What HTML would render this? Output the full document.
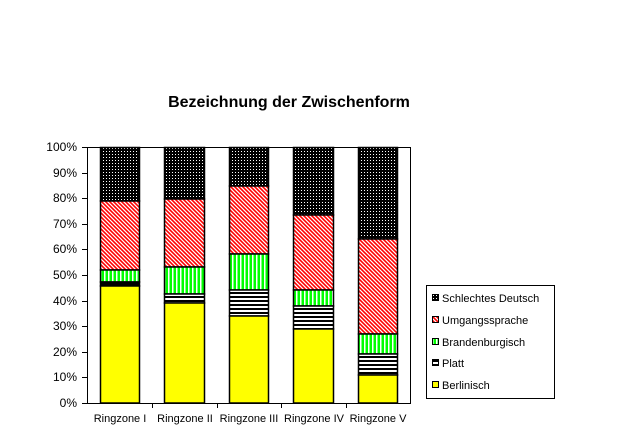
<!DOCTYPE html>
<html><head><meta charset="utf-8"><style>
body{margin:0;background:#fff;}
svg text{font-family:"Liberation Sans",Arial,sans-serif;}
</style></head><body>
<svg width="640" height="442" viewBox="0 0 640 442" xmlns="http://www.w3.org/2000/svg">
<defs>
<pattern id="dots" width="3" height="3" patternUnits="userSpaceOnUse"><rect width="3" height="3" fill="#000"/><rect x="1" y="1" width="1" height="1" fill="#fff"/></pattern>
<pattern id="diag" width="4" height="4" patternUnits="userSpaceOnUse"><rect width="4" height="4" fill="#fff"/><path d="M-1,3 L1,5 M0,0 L4,4 M3,-1 L5,1" stroke="#f00" stroke-width="1.6"/></pattern>
<pattern id="vert" width="4" height="4" patternUnits="userSpaceOnUse"><rect width="4" height="4" fill="#0f0"/><rect x="0" width="1.5" height="4" fill="#fff"/></pattern>
<pattern id="horiz" width="4" height="4" patternUnits="userSpaceOnUse"><rect width="4" height="4" fill="#fff"/><rect y="0" width="4" height="2" fill="#000"/></pattern>
</defs>
<text x="289" y="107" font-size="16" font-weight="bold" text-anchor="middle">Bezeichnung der Zwischenform</text>
<g font-size="12" text-anchor="end">
<text x="77" y="151">100%</text><text x="77" y="177">90%</text><text x="77" y="202">80%</text><text x="77" y="228">70%</text><text x="77" y="253">60%</text><text x="77" y="279">50%</text><text x="77" y="305">40%</text><text x="77" y="330">30%</text><text x="77" y="356">20%</text><text x="77" y="381">10%</text><text x="77" y="407">0%</text>
</g>
<g stroke="#000" stroke-width="1">
<path d="M87.5,147 V403.5 H410.5 V147.5 H87.5" fill="none"/>
<path d="M82,147.5H88M82,173.5H88M82,198.5H88M82,224.5H88M82,249.5H88M82,275.5H88M82,301.5H88M82,326.5H88M82,352.5H88M82,377.5H88M82,403.5H88"/>
<path d="M152.5,403V408M217.5,403V408M281.5,403V408M346.5,403V408"/>
</g>
<g stroke="#000" stroke-width="1.5">
<rect x="100.5" y="147.5" width="39" height="53.5" fill="url(#dots)"/>
<rect x="100.5" y="201" width="39" height="69" fill="url(#diag)"/>
<rect x="100.5" y="270" width="39" height="12" fill="url(#vert)"/>
<rect x="100.5" y="282" width="39" height="4" fill="#000"/>
<rect x="100.5" y="286" width="39" height="117" fill="#ff0"/>
<rect x="164.5" y="147.5" width="40" height="51.5" fill="url(#dots)"/>
<rect x="164.5" y="199" width="40" height="68" fill="url(#diag)"/>
<rect x="164.5" y="267" width="40" height="27" fill="url(#vert)"/>
<rect x="164.5" y="294" width="40" height="9" fill="url(#horiz)"/>
<rect x="164.5" y="303" width="40" height="100" fill="#ff0"/>
<rect x="229.5" y="147.5" width="39" height="38.5" fill="url(#dots)"/>
<rect x="229.5" y="186" width="39" height="68" fill="url(#diag)"/>
<rect x="229.5" y="254" width="39" height="36" fill="url(#vert)"/>
<rect x="229.5" y="290" width="39" height="26" fill="url(#horiz)"/>
<rect x="229.5" y="316" width="39" height="87" fill="#ff0"/>
<rect x="293.5" y="147.5" width="40" height="67.5" fill="url(#dots)"/>
<rect x="293.5" y="215" width="40" height="75" fill="url(#diag)"/>
<rect x="293.5" y="290" width="40" height="16" fill="url(#vert)"/>
<rect x="293.5" y="306" width="40" height="23" fill="url(#horiz)"/>
<rect x="293.5" y="329" width="40" height="74" fill="#ff0"/>
<rect x="358.5" y="147.5" width="39" height="91.5" fill="url(#dots)"/>
<rect x="358.5" y="239" width="39" height="95" fill="url(#diag)"/>
<rect x="358.5" y="334" width="39" height="20" fill="url(#vert)"/>
<rect x="358.5" y="354" width="39" height="21" fill="url(#horiz)"/>
<rect x="358.5" y="375" width="39" height="28" fill="#ff0"/>
</g>
<g font-size="11" text-anchor="middle">
<text x="120" y="422">Ringzone I</text><text x="185" y="422">Ringzone II</text><text x="249" y="422">Ringzone III</text><text x="314" y="422">Ringzone IV</text><text x="378" y="422">Ringzone V</text>
</g>
<rect x="426.5" y="285.5" width="128" height="113" fill="#fff" stroke="#000"/>
<g stroke="#000" stroke-width="1">
<rect x="432.5" y="294.5" width="6" height="6" fill="url(#dots)"/>
<rect x="432.5" y="316.5" width="6" height="6" fill="url(#diag)"/>
<rect x="432.5" y="338.5" width="6" height="6" fill="url(#vert)"/>
<rect x="432.5" y="359.5" width="6" height="6" fill="url(#horiz)"/>
<rect x="432.5" y="381.5" width="6" height="6" fill="#ff0"/>
</g>
<g font-size="11">
<text x="442" y="302">Schlechtes Deutsch</text>
<text x="442" y="324">Umgangssprache</text>
<text x="442" y="346">Brandenburgisch</text>
<text x="442" y="367">Platt</text>
<text x="442" y="389">Berlinisch</text>
</g>
</svg>
</body></html>
